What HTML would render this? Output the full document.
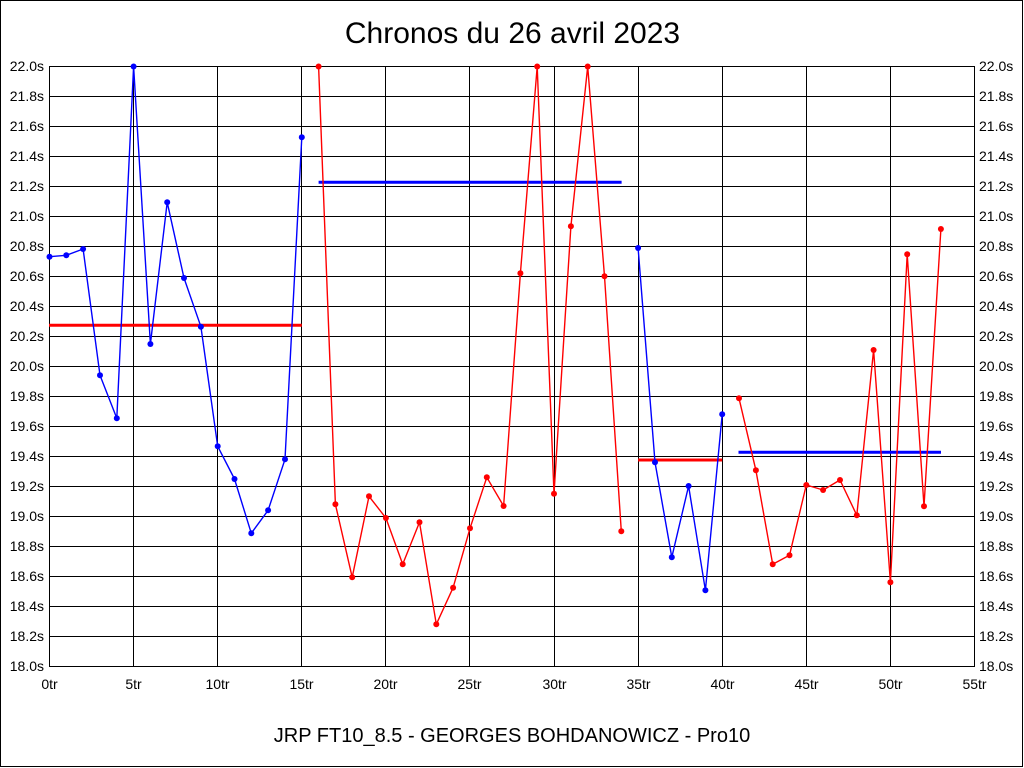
<!DOCTYPE html>
<html>
<head>
<meta charset="utf-8">
<style>
html,body{margin:0;padding:0;background:#fff;}
svg{display:block;}
text{font-family:"Liberation Sans",Arial,sans-serif;fill:#000;}
</style>
</head>
<body>
<svg width="1024" height="768" viewBox="0 0 1024 768" xmlns="http://www.w3.org/2000/svg">
<rect x="0" y="0" width="1024" height="768" fill="#fff"/>
<rect x="0.5" y="0.5" width="1022" height="766" fill="none" stroke="#000" stroke-width="1"/>

<!-- title -->
<text x="512.5" y="43" font-size="30" text-anchor="middle">Chronos du 26 avril 2023</text>

<!-- grid horizontal -->
<g stroke="#000" stroke-width="1" shape-rendering="crispEdges">
<line x1="49" y1="66.5" x2="975" y2="66.5"/>
<line x1="49" y1="96.5" x2="975" y2="96.5"/>
<line x1="49" y1="126.5" x2="975" y2="126.5"/>
<line x1="49" y1="156.5" x2="975" y2="156.5"/>
<line x1="49" y1="186.5" x2="975" y2="186.5"/>
<line x1="49" y1="216.5" x2="975" y2="216.5"/>
<line x1="49" y1="246.5" x2="975" y2="246.5"/>
<line x1="49" y1="276.5" x2="975" y2="276.5"/>
<line x1="49" y1="306.5" x2="975" y2="306.5"/>
<line x1="49" y1="336.5" x2="975" y2="336.5"/>
<line x1="49" y1="366.5" x2="975" y2="366.5"/>
<line x1="49" y1="396.5" x2="975" y2="396.5"/>
<line x1="49" y1="426.5" x2="975" y2="426.5"/>
<line x1="49" y1="456.5" x2="975" y2="456.5"/>
<line x1="49" y1="486.5" x2="975" y2="486.5"/>
<line x1="49" y1="516.5" x2="975" y2="516.5"/>
<line x1="49" y1="546.5" x2="975" y2="546.5"/>
<line x1="49" y1="576.5" x2="975" y2="576.5"/>
<line x1="49" y1="606.5" x2="975" y2="606.5"/>
<line x1="49" y1="636.5" x2="975" y2="636.5"/>
<line x1="49" y1="666.5" x2="975" y2="666.5"/>
<!-- vertical -->
<line x1="49.5" y1="66" x2="49.5" y2="667"/>
<line x1="133.5" y1="66" x2="133.5" y2="667"/>
<line x1="217.5" y1="66" x2="217.5" y2="667"/>
<line x1="301.5" y1="66" x2="301.5" y2="667"/>
<line x1="385.5" y1="66" x2="385.5" y2="667"/>
<line x1="469.5" y1="66" x2="469.5" y2="667"/>
<line x1="554.5" y1="66" x2="554.5" y2="667"/>
<line x1="638.5" y1="66" x2="638.5" y2="667"/>
<line x1="722.5" y1="66" x2="722.5" y2="667"/>
<line x1="806.5" y1="66" x2="806.5" y2="667"/>
<line x1="890.5" y1="66" x2="890.5" y2="667"/>
<line x1="974.5" y1="66" x2="974.5" y2="667"/>
</g>

<!-- left y labels -->
<g font-size="14" text-anchor="end">
<text x="44" y="71">22.0s</text>
<text x="44" y="101">21.8s</text>
<text x="44" y="131">21.6s</text>
<text x="44" y="161">21.4s</text>
<text x="44" y="191">21.2s</text>
<text x="44" y="221">21.0s</text>
<text x="44" y="251">20.8s</text>
<text x="44" y="281">20.6s</text>
<text x="44" y="311">20.4s</text>
<text x="44" y="341">20.2s</text>
<text x="44" y="371">20.0s</text>
<text x="44" y="401">19.8s</text>
<text x="44" y="431">19.6s</text>
<text x="44" y="461">19.4s</text>
<text x="44" y="491">19.2s</text>
<text x="44" y="521">19.0s</text>
<text x="44" y="551">18.8s</text>
<text x="44" y="581">18.6s</text>
<text x="44" y="611">18.4s</text>
<text x="44" y="641">18.2s</text>
<text x="44" y="671">18.0s</text>
</g>
<!-- right y labels -->
<g font-size="14" text-anchor="start">
<text x="979" y="71">22.0s</text>
<text x="979" y="101">21.8s</text>
<text x="979" y="131">21.6s</text>
<text x="979" y="161">21.4s</text>
<text x="979" y="191">21.2s</text>
<text x="979" y="221">21.0s</text>
<text x="979" y="251">20.8s</text>
<text x="979" y="281">20.6s</text>
<text x="979" y="311">20.4s</text>
<text x="979" y="341">20.2s</text>
<text x="979" y="371">20.0s</text>
<text x="979" y="401">19.8s</text>
<text x="979" y="431">19.6s</text>
<text x="979" y="461">19.4s</text>
<text x="979" y="491">19.2s</text>
<text x="979" y="521">19.0s</text>
<text x="979" y="551">18.8s</text>
<text x="979" y="581">18.6s</text>
<text x="979" y="611">18.4s</text>
<text x="979" y="641">18.2s</text>
<text x="979" y="671">18.0s</text>
</g>
<!-- x labels -->
<g font-size="14" text-anchor="middle">
<text x="49.5" y="689">0tr</text>
<text x="133.5" y="689">5tr</text>
<text x="217.5" y="689">10tr</text>
<text x="301.5" y="689">15tr</text>
<text x="385.5" y="689">20tr</text>
<text x="469.5" y="689">25tr</text>
<text x="554.5" y="689">30tr</text>
<text x="638.5" y="689">35tr</text>
<text x="722.5" y="689">40tr</text>
<text x="806.5" y="689">45tr</text>
<text x="890.5" y="689">50tr</text>
<text x="974.5" y="689">55tr</text>
</g>

<!-- average lines -->
<g stroke-width="3">
<line x1="49" y1="325.3" x2="301.8" y2="325.3" stroke="#ff0000"/>
<line x1="318.6" y1="182.3" x2="621.6" y2="182.3" stroke="#0000ff"/>
<line x1="638.1" y1="460" x2="722.2" y2="460" stroke="#ff0000"/>
<line x1="738.5" y1="452.3" x2="941" y2="452.3" stroke="#0000ff"/>
</g>

<!-- series -->
<g fill="none" stroke-width="1.4" stroke-linejoin="round">
<polyline stroke="#0000ff" points="49.5,256.7 66.3,255.3 83.1,249 100,375.3 116.8,418.3 133.6,66.5 150.4,344 167.2,202.3 184,278 200.9,326.7 217.7,446.3 234.5,479 251.3,533.3 268.1,510.3 285,459.3 301.8,137.3"/>
<polyline stroke="#ff0000" points="318.6,66.5 335.4,504.3 352.2,577.3 369,496.3 385.9,518 402.7,564.3 419.5,522.3 436.3,624.3 453.1,587.7 470,528.3 486.8,477.3 503.6,506 520.4,273.3 537.2,66.5 554,493.7 570.9,226.3 587.7,66.5 604.5,276.3 621.3,531.3"/>
<polyline stroke="#0000ff" points="638.1,248 655,462.3 671.8,557.3 688.6,486 705.4,590.3 722.2,414.3"/>
<polyline stroke="#ff0000" points="739,398.3 755.9,470.3 772.7,564.3 789.5,555.3 806.3,485 823.1,490 840,480 856.8,515.3 873.6,350 890.4,582.3 907.2,254.3 924,506.3 940.9,229"/>
</g>

<!-- dots -->
<g fill="#0000ff">
<circle cx="49.5" cy="256.7" r="3"/><circle cx="66.3" cy="255.3" r="3"/><circle cx="83.1" cy="249" r="3"/><circle cx="100" cy="375.3" r="3"/><circle cx="116.8" cy="418.3" r="3"/><circle cx="133.6" cy="66.5" r="3"/><circle cx="150.4" cy="344" r="3"/><circle cx="167.2" cy="202.3" r="3"/><circle cx="184" cy="278" r="3"/><circle cx="200.9" cy="326.7" r="3"/><circle cx="217.7" cy="446.3" r="3"/><circle cx="234.5" cy="479" r="3"/><circle cx="251.3" cy="533.3" r="3"/><circle cx="268.1" cy="510.3" r="3"/><circle cx="285" cy="459.3" r="3"/><circle cx="301.8" cy="137.3" r="3"/>
<circle cx="638.1" cy="248" r="3"/><circle cx="655" cy="462.3" r="3"/><circle cx="671.8" cy="557.3" r="3"/><circle cx="688.6" cy="486" r="3"/><circle cx="705.4" cy="590.3" r="3"/><circle cx="722.2" cy="414.3" r="3"/>
</g>
<g fill="#ff0000">
<circle cx="318.6" cy="66.5" r="3"/><circle cx="335.4" cy="504.3" r="3"/><circle cx="352.2" cy="577.3" r="3"/><circle cx="369" cy="496.3" r="3"/><circle cx="385.9" cy="518" r="3"/><circle cx="402.7" cy="564.3" r="3"/><circle cx="419.5" cy="522.3" r="3"/><circle cx="436.3" cy="624.3" r="3"/><circle cx="453.1" cy="587.7" r="3"/><circle cx="470" cy="528.3" r="3"/><circle cx="486.8" cy="477.3" r="3"/><circle cx="503.6" cy="506" r="3"/><circle cx="520.4" cy="273.3" r="3"/><circle cx="537.2" cy="66.5" r="3"/><circle cx="554" cy="493.7" r="3"/><circle cx="570.9" cy="226.3" r="3"/><circle cx="587.7" cy="66.5" r="3"/><circle cx="604.5" cy="276.3" r="3"/><circle cx="621.3" cy="531.3" r="3"/>
<circle cx="739" cy="398.3" r="3"/><circle cx="755.9" cy="470.3" r="3"/><circle cx="772.7" cy="564.3" r="3"/><circle cx="789.5" cy="555.3" r="3"/><circle cx="806.3" cy="485" r="3"/><circle cx="823.1" cy="490" r="3"/><circle cx="840" cy="480" r="3"/><circle cx="856.8" cy="515.3" r="3"/><circle cx="873.6" cy="350" r="3"/><circle cx="890.4" cy="582.3" r="3"/><circle cx="907.2" cy="254.3" r="3"/><circle cx="924" cy="506.3" r="3"/><circle cx="940.9" cy="229" r="3"/>
</g>

<!-- footer -->
<text x="512" y="742" font-size="20" text-anchor="middle">JRP FT10_8.5 - GEORGES BOHDANOWICZ - Pro10</text>
</svg>
</body>
</html>
